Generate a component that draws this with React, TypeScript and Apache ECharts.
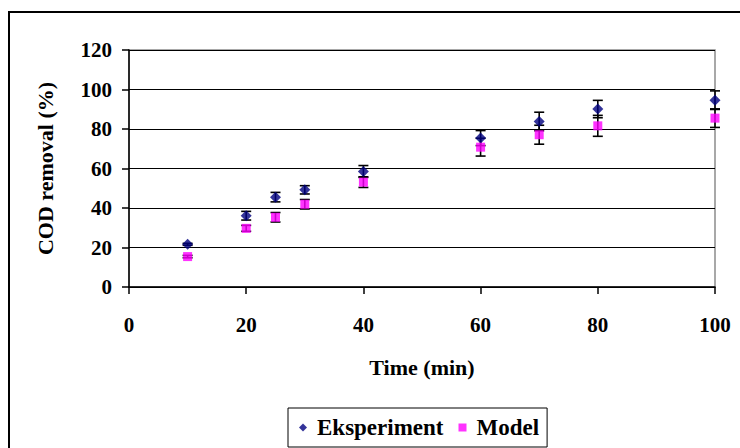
import React, { useEffect, useRef } from "react";
import * as echarts from "echarts";

// Reaction time (min)
const times = [10, 20, 25, 30, 40, 60, 70, 80, 100];
// Measured COD removal (%) and its standard deviation
const experiment = [21.6, 36.1, 45.5, 49.2, 58.5, 75.4, 83.8, 90.1, 94.6];
const experimentErr = [0.5, 2.2, 2.4, 2.1, 3, 3.8, 4.7, 4.4, 4.7];
// Model prediction (%) and its spread
const model = [15.4, 29.7, 35.3, 41.9, 53.1, 70.8, 77.1, 81.6, 85.5];
const modelErr = [0.6, 1.5, 2.4, 2.4, 2.7, 4.5, 4.8, 5.3, 4.7];

const yTicks = [0, 20, 40, 60, 80, 100, 120];
const xTicks = [0, 20, 40, 60, 80, 100];

const FONT = "'Liberation Serif', 'Times New Roman', serif";

function errorBars(name: string, values: number[], errs: number[]) {
  return {
    type: "custom",
    name,
    clip: false,
    z: 3,
    data: times.map((t, i) => [t, values[i] - errs[i], values[i] + errs[i]]),
    encode: { x: 0, y: [1, 2] },
    renderItem: (params: any, api: any) => {
      const x = api.value(0);
      const lo = api.coord([x, api.value(1)]);
      const hi = api.coord([x, api.value(2)]);
      const cap = 5;
      const style = { stroke: "#000", lineWidth: 1.6 };
      return {
        type: "group",
        children: [
          { type: "line", shape: { x1: lo[0], y1: lo[1], x2: hi[0], y2: hi[1] }, style },
          { type: "line", shape: { x1: lo[0] - cap, y1: lo[1], x2: lo[0] + cap, y2: lo[1] }, style },
          { type: "line", shape: { x1: hi[0] - cap, y1: hi[1], x2: hi[0] + cap, y2: hi[1] }, style },
        ],
      };
    },
  };
}

export default function App() {
  const ref = useRef<HTMLDivElement>(null);

  useEffect(() => {
    if (!ref.current) return;
    const chart = echarts.init(ref.current, null, { renderer: "svg" });
    chart.setOption({
      animation: false,
      backgroundColor: "#fff",
      textStyle: { fontFamily: FONT },
      graphic: [
        {
          type: "rect",
          z: -10,
          silent: true,
          shape: { x: 9, y: 12, width: 760, height: 460 },
          style: { fill: "none", stroke: "#000", lineWidth: 2 },
        },
      ],
      grid: {
        left: 129,
        top: 50,
        right: 25,
        bottom: 161,
        show: true,
        borderColor: "#8c8c8c",
        borderWidth: 1.5,
      },
      xAxis: {
        type: "value",
        min: xTicks[0],
        max: xTicks[xTicks.length - 1],
        interval: 20,
        name: "Time (min)",
        nameLocation: "middle",
        nameGap: 69,
        nameTextStyle: { fontFamily: FONT, fontWeight: "bold", fontSize: 22, color: "#000" },
        axisLine: { show: true, lineStyle: { color: "#000", width: 1.5 } },
        axisTick: { show: true, length: 7, lineStyle: { color: "#000", width: 1.5 } },
        axisLabel: { margin: 27, fontFamily: FONT, fontWeight: "bold", fontSize: 21, color: "#000" },
        splitLine: { show: false },
      },
      yAxis: {
        type: "value",
        min: yTicks[0],
        max: yTicks[yTicks.length - 1],
        interval: 20,
        name: "COD removal (%)",
        nameLocation: "middle",
        nameGap: 73,
        nameTextStyle: { fontFamily: FONT, fontWeight: "bold", fontSize: 22, color: "#000" },
        axisLine: { show: true, lineStyle: { color: "#000", width: 1.5 } },
        axisTick: { show: true, length: 7, lineStyle: { color: "#000", width: 1.5 } },
        axisLabel: { margin: 17, fontFamily: FONT, fontWeight: "bold", fontSize: 21, color: "#000" },
        splitLine: { show: true, lineStyle: { color: "#000", width: 1.2 } },
      },
      legend: {
        left: 288,
        top: 408,
        orient: "horizontal",
        data: [
          { name: "Eksperiment", icon: "diamond" },
          { name: "Model", icon: "rect" },
        ],
        itemWidth: 8,
        itemHeight: 8,
        itemGap: 15,
        padding: [8, 8, 8, 11],
        borderColor: "#000",
        borderWidth: 1,
        textStyle: { fontFamily: FONT, fontWeight: "bold", fontSize: 23, color: "#000", padding: [0, 0, 0, 5] },
      },
      series: [
        errorBars("Eksperiment SD", experiment, experimentErr),
        errorBars("Model SD", model, modelErr),
        {
          type: "scatter",
          name: "Eksperiment",
          symbol: "diamond",
          symbolSize: 11,
          clip: false,
          z: 4,
          itemStyle: { color: "#000080" },
          data: times.map((t, i) => [t, experiment[i]]),
        },
        {
          type: "scatter",
          name: "Model",
          symbol: "rect",
          symbolSize: 9,
          clip: false,
          z: 4,
          itemStyle: { color: "#ff00ff" },
          data: times.map((t, i) => [t, model[i]]),
        },
      ],
    });
    return () => chart.dispose();
  }, []);

  return (
    <div
      ref={ref}
      style={{ position: "fixed", left: 0, top: 0, width: 740, height: 448, background: "#fff" }}
    />
  );
}
